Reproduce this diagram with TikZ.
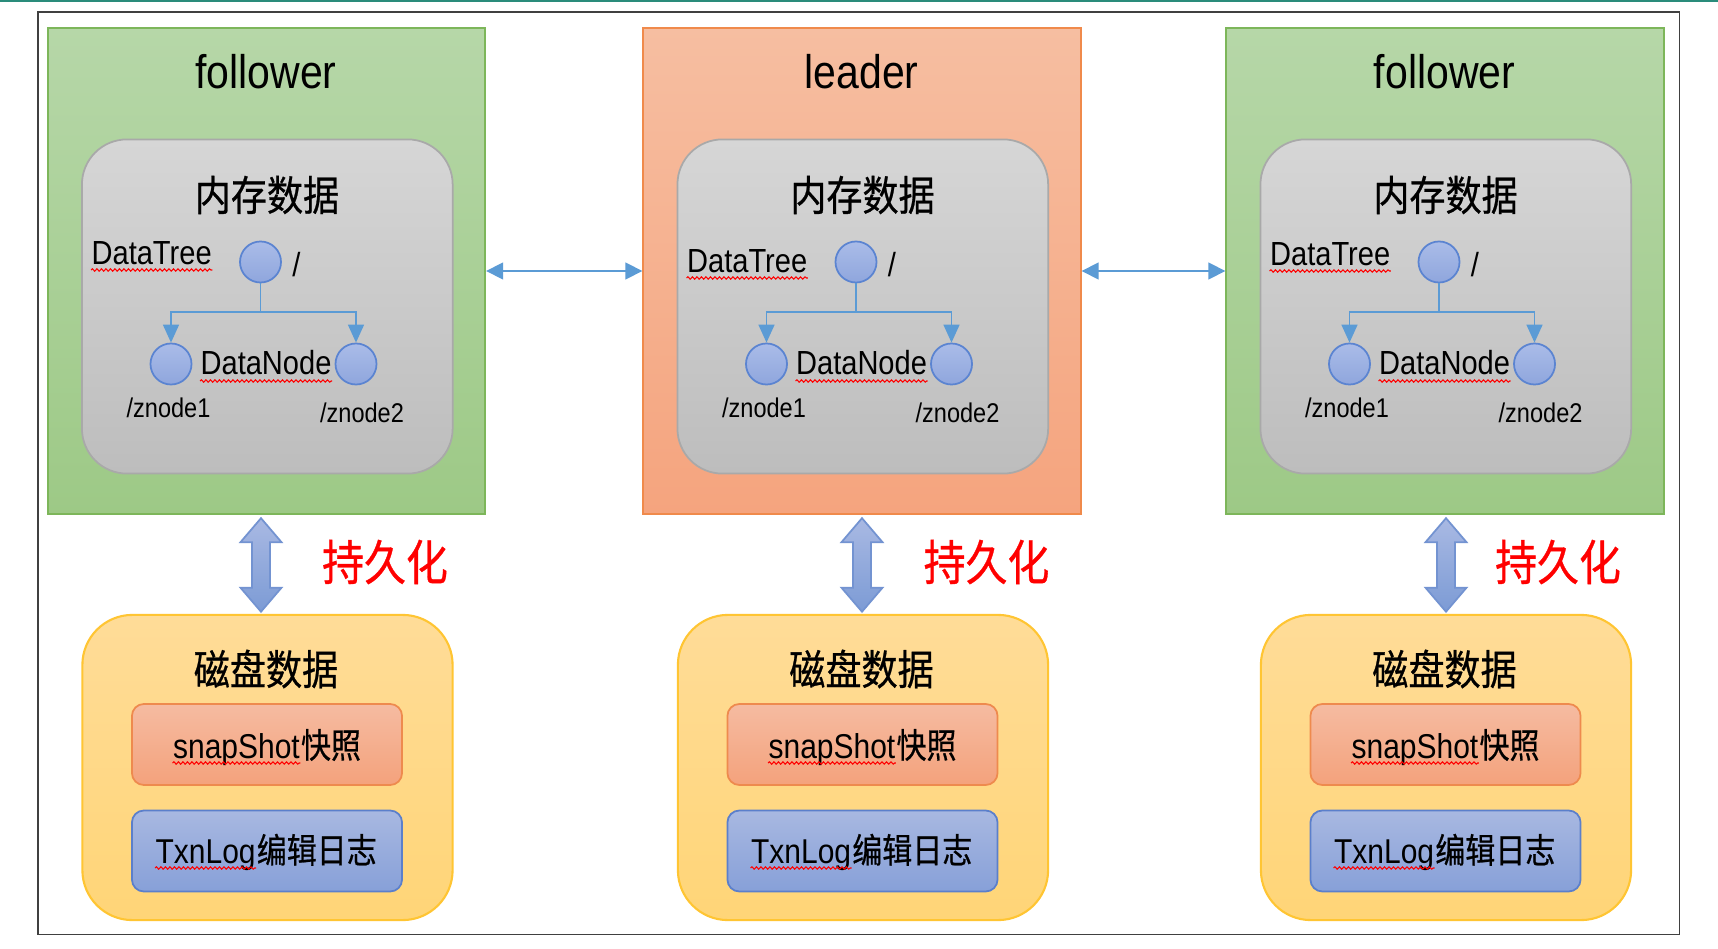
\documentclass[tikz,border=0pt]{standalone}
\usepackage{fontspec}
\setmainfont{Liberation Sans}
\newfontfamily\cjk{Noto Sans CJK SC}[FakeBold=0.7]
\usetikzlibrary{arrows.meta,calc,decorations.pathmorphing}
\definecolor{greenTop}{HTML}{B6D7A8}
\definecolor{greenBot}{HTML}{9DC986}
\definecolor{greenLine}{HTML}{7DB65A}
\definecolor{leadTop}{HTML}{F6BEA1}
\definecolor{leadBot}{HTML}{F5A47E}
\definecolor{leadLine}{HTML}{F08A4B}
\definecolor{memTop}{HTML}{D6D6D6}
\definecolor{memBot}{HTML}{BDBDBD}
\definecolor{memLine}{HTML}{A9A9A9}
\definecolor{nodeTop}{HTML}{AABCE8}
\definecolor{nodeBot}{HTML}{8FA6DD}
\definecolor{nodeLine}{HTML}{5B84D1}
\definecolor{treeBlue}{HTML}{5B9BD5}
\definecolor{fatTop}{HTML}{A9B9E3}
\definecolor{fatBot}{HTML}{7C9BD5}
\definecolor{fatLine}{HTML}{7393D1}
\definecolor{diskTop}{HTML}{FFDC98}
\definecolor{diskBot}{HTML}{FFD577}
\definecolor{diskLine}{HTML}{FFC533}
\definecolor{snapTop}{HTML}{F5BBA1}
\definecolor{snapBot}{HTML}{F4A27C}
\definecolor{snapLine}{HTML}{EE8A4E}
\definecolor{logTop}{HTML}{A8B8E1}
\definecolor{logBot}{HTML}{87A0D8}
\definecolor{logLine}{HTML}{5B7FCB}
\definecolor{frameGray}{HTML}{404040}
\definecolor{topTeal}{HTML}{2A8C7B}
\tikzset{
    follbox/.style={draw=greenLine,line width=0.6pt,top color=greenTop,bottom color=greenBot,minimum width=4.37cm,minimum height=4.86cm,inner sep=0pt},
    leadbox/.style={draw=leadLine,line width=0.6pt,top color=leadTop,bottom color=leadBot,minimum width=4.37cm,minimum height=4.86cm,inner sep=0pt},
    membox/.style={draw=memLine,line width=0.5pt,rounded corners=0.45cm,top color=memTop,bottom color=memBot,minimum width=3.705cm,minimum height=3.34cm,inner sep=0pt},
    diskbox/.style={draw=diskLine,line width=0.6pt,rounded corners=0.5cm,top color=diskTop,bottom color=diskBot,minimum width=3.70cm,minimum height=3.05cm,inner sep=0pt},
    snapbox/.style={draw=snapLine,line width=0.5pt,rounded corners=0.12cm,top color=snapTop,bottom color=snapBot,minimum width=2.70cm,minimum height=0.81cm,inner sep=0pt},
    logbox/.style={draw=logLine,line width=0.5pt,rounded corners=0.12cm,top color=logTop,bottom color=logBot,minimum width=2.70cm,minimum height=0.81cm,inner sep=0pt},
    znode/.style={circle,draw=nodeLine,line width=0.5pt,top color=nodeTop,bottom color=nodeBot,minimum size=0.41cm,inner sep=0pt},
    treearrow/.style={treeBlue,line width=0.45pt,-{Triangle[length=0.18cm,width=0.16cm]}},
    linkarrow/.style={treeBlue,line width=0.45pt,{Triangle[length=0.17cm,width=0.17cm]}-{Triangle[length=0.17cm,width=0.17cm]}},
    fatarrow/.style={draw=fatLine,line width=0.5pt,top color=fatTop,bottom color=fatBot},
    spell/.style={red,line width=0.3pt,decorate,decoration={snake,amplitude=0.012cm,segment length=0.045cm}},
    squeeze/.style={xscale=0.87,inner sep=0pt},
    titletext/.style={squeeze,font=\fontsize{13.4}{16}\selectfont},
    cntitle/.style={squeeze,font=\cjk\fontsize{11.8}{14}\selectfont},
    treetext/.style={squeeze,font=\fontsize{9.5}{11}\selectfont},
    pathtext/.style={squeeze,font=\fontsize{7.7}{9}\selectfont},
    filetext/.style={squeeze,font=\fontsize{9.8}{12}\selectfont},
    filecn/.style={squeeze,font=\cjk\fontsize{9.8}{12}\selectfont},
    persist/.style={squeeze,text=red,font=\cjk\fontsize{13.7}{16}\selectfont}
}
\newcommand{\PersistArrow}[1]{%
    \draw[fatarrow] (#1) -- ++(20.5,24) -- ++(-11.5,0) -- ++(0,45.5) -- ++(11.5,0)
        -- ++(-20.5,24) -- ++(-20.5,-24) -- ++(11.5,0) -- ++(0,-45.5) -- ++(-11.5,0) -- cycle;%
}

\begin{document}
\begin{tikzpicture}[x=0.01cm,y=-0.01cm]

    \fill[white] (0,0) rectangle (1718,949);
    \useasboundingbox (0,0) rectangle (1718,949);

    % top rule and outer frame
    \draw[topTeal,line width=0.7pt] (0,1.2) -- (1718,1.2);
    \draw[frameGray,line width=0.5pt] (38.3,11.7) rectangle (1679.4,934.5);

    % one column per server
    \foreach \cx/\ttl/\sty/\dty/\ax/\px [count=\i] in {0/follower/follbox/265/-5.5/385, 595.5/leader/leadbox/273/0/391, 1178.5/follower/follbox/266/1/379.5} {
        \begin{scope}[shift={(\cx,0)}]
            \node[\sty] (box\i) at (266.5,271) {};
            \node[titletext,anchor=base] (role\i) at (266,89) {\ttl};

            % memory data
            \node[membox] (mem\i) at (267.3,306.5) {};
            \node[cntitle] (memt\i) at (267,195) {内存数据};
            \node[treetext,anchor=base west] (tree\i) at (91,\dty) {DataTree};
            \draw[spell] ([yshift=-0.05cm]tree\i.base west) -- ([yshift=-0.05cm]tree\i.base east);
            \node[znode] (root\i) at (260.5,262) {};
            \node[treetext,anchor=base] (slash\i) at (296.5,277) {/};
            \node[znode] (kidA\i) at (171,364) {};
            \node[znode] (kidB\i) at (356,364) {};
            \coordinate (fork\i) at (260.5,312);
            \draw[treeBlue,line width=0.45pt] (root\i) -- (fork\i);
            \draw[treearrow] (fork\i) -| (kidA\i);
            \draw[treearrow] (fork\i) -| (kidB\i);
            \node[treetext,anchor=base west] (dnode\i) at (200,375) {DataNode};
            \draw[spell] ([yshift=-0.06cm]dnode\i.base west) -- ([yshift=-0.06cm]dnode\i.base east);
            \node[pathtext,anchor=base west] (zA\i) at (126,418) {/znode1};
            \node[pathtext,anchor=base west] (zB\i) at (319.5,423) {/znode2};

            % disk data
            \node[diskbox] (disk\i) at (267.5,767.5) {};
            \node[cntitle] (diskt\i) at (266,669) {磁盘数据};
            \node[snapbox] (snap\i) at (267,744.5) {};
            \node[filetext,anchor=base west] (snapA\i) at (172.5,758) {snapShot};
            \node[filecn,anchor=base west] (snapB\i) at (snapA\i.base east) {快照};
            \draw[spell] ([yshift=-0.05cm]snapA\i.base west) -- ([yshift=-0.05cm]snapA\i.base east);
            \node[logbox] (log\i) at (267,851) {};
            \node[filetext,anchor=base west] (logA\i) at (155,863) {TxnLog};
            \node[filecn,anchor=base west] (logB\i) at (logA\i.base east) {编辑日志};
            \draw[spell] ([yshift=-0.05cm]logA\i.base west) -- ([yshift=-0.05cm]logA\i.base east);

            % persistence
            \coordinate (ptop\i) at ($(box\i.south)+(\ax,3)$);
            \PersistArrow{ptop\i}
            \node[persist] (pers\i) at (\px,562) {持久化};
        \end{scope}
    }

    % links between servers
    \draw[linkarrow] (box1) -- (box2);
    \draw[linkarrow] (box2) -- (box3);

\end{tikzpicture}
\end{document}
